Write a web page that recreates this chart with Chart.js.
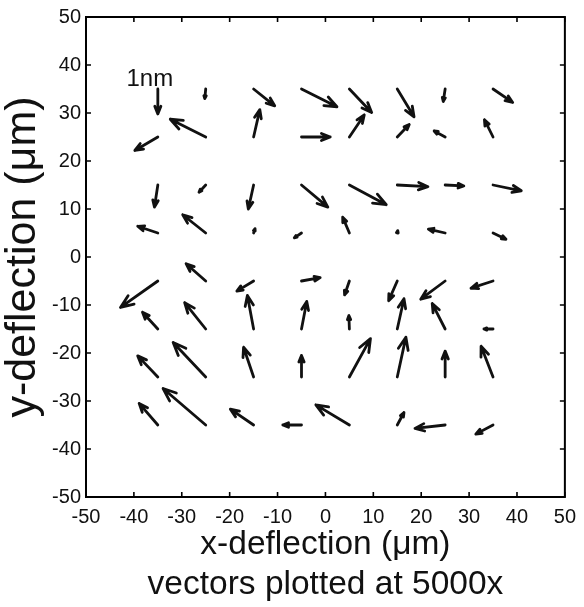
<!DOCTYPE html>
<html><head><meta charset="utf-8">
<script src="https://cdn.jsdelivr.net/npm/chart.js@4/dist/chart.umd.min.js"></script>
<style>html,body{margin:0;padding:0;background:#fff}#wrap{width:584px;height:607px}</style>
</head><body><div id="wrap"><canvas id="c" width="584" height="607"></canvas></div>
<script>
// grid of measurement positions (µm)
const gridX = [-35, -25, -15, -5, 5, 15, 25, 35];
const gridY = [35, 25, 15, 5, -5, -15, -25, -35];
// vector components (plot units, 5000x), one row per gridY value
const uRows = [
  [0.0, -0.2, 4.4, 7.4, 4.65, 3.5, -0.4, 4.1],
  [-4.8, -7.4, 1.3, 6.0, 3.1, 2.5, -2.3, -1.8],
  [-0.7, -1.4, -1.1, 5.5, 7.7, 6.4, 3.9, 5.9],
  [-4.2, -4.8, 0.3, -1.5, -1.4, 0.1, -3.5, 2.7],
  [-7.8, -4.1, -3.5, 3.9, -1.0, -1.8, -5.1, -4.6],
  [-3.2, -4.4, -1.3, 1.1, -0.1, 1.4, -2.7, -1.9],
  [-4.2, -6.8, -2.1, 0.0, 4.4, 1.8, 0.0, -2.5],
  [-3.9, -8.9, -4.85, -3.9, -7.0, 1.4, -6.3, -3.6]
];
const vRows = [
  [-5.2, -2.0, -3.5, -3.7, -4.9, -5.8, -2.6, -2.8],
  [-2.8, 3.7, 5.7, 0.0, 4.6, 2.6, 1.25, 3.6],
  [-4.6, -1.5, -5.0, -4.6, -4.1, -0.35, -0.2, -1.2],
  [1.4, 3.8, 0.9, -1.0, 3.3, 0.5, 0.8, -1.3],
  [-5.5, 3.6, -2.1, 0.7, -2.9, -4.1, -3.8, -1.5],
  [3.5, 5.5, 7.0, 5.75, 2.8, 6.3, 5.3, 0.0],
  [4.4, 7.2, 6.2, 4.5, 8.0, 8.3, 5.4, 6.4],
  [4.5, 7.6, 3.3, 0.0, 4.2, 2.6, -0.7, -1.9]
];
const tickValues = [-50, -40, -30, -20, -10, 0, 10, 20, 30, 40, 50];
const scaleArrowLabel = '1nm';
const xTitleLines = ['x-deflection (\u03bcm)', 'vectors plotted at 5000x'];
const yTitle = 'y-deflection (\u03bcm)';

const points = [];
gridY.forEach((y, r) => gridX.forEach((x, c) => {
  points.push({x: x, y: y, u: uRows[r][c], v: vRows[r][c]});
}));

const FONT = '"Liberation Sans", Arial, Helvetica, sans-serif';

const quiverPlugin = {
  id: 'quiver',
  afterDatasetsDraw(chart) {
    const ctx = chart.ctx, xs = chart.scales.x, ys = chart.scales.y;
    const a = chart.chartArea;
    ctx.save();
    // box
    ctx.strokeStyle = '#000'; ctx.lineWidth = 2;
    ctx.strokeRect(a.left, a.top, a.right - a.left, a.bottom - a.top);
    // inward ticks
    ctx.lineWidth = 1.6;
    ctx.beginPath();
    tickValues.forEach(t => {
      const px = xs.getPixelForValue(t), py = ys.getPixelForValue(t);
      ctx.moveTo(px, a.bottom); ctx.lineTo(px, a.bottom - 5);
      ctx.moveTo(px, a.top); ctx.lineTo(px, a.top + 5);
      ctx.moveTo(a.left, py); ctx.lineTo(a.left + 5, py);
      ctx.moveTo(a.right, py); ctx.lineTo(a.right - 5, py);
    });
    ctx.stroke();
    // arrows
    ctx.strokeStyle = '#111'; ctx.lineCap = 'round'; ctx.lineJoin = 'round';
    ctx.lineWidth = 2.8;
    points.forEach(p => {
      const x0 = xs.getPixelForValue(p.x), y0 = ys.getPixelForValue(p.y);
      const x1 = xs.getPixelForValue(p.x + p.u), y1 = ys.getPixelForValue(p.y + p.v);
      const dx = x1 - x0, dy = y1 - y0;
      const len = Math.hypot(dx, dy);
      ctx.beginPath();
      ctx.moveTo(x0, y0); ctx.lineTo(x1, y1);
      if (len > 0.5) {
        const h = Math.min(14, Math.max(2.5, 0.33 * len));
        const ang = Math.atan2(dy, dx), sp = 0.38;
        ctx.moveTo(x1 - h * Math.cos(ang - sp), y1 - h * Math.sin(ang - sp));
        ctx.lineTo(x1, y1);
        ctx.lineTo(x1 - h * Math.cos(ang + sp), y1 - h * Math.sin(ang + sp));
      }
      ctx.stroke();
    });
    // scale arrow label
    const sp0 = points[0];
    ctx.fillStyle = '#111';
    ctx.font = '24px ' + FONT;
    ctx.textAlign = 'center'; ctx.textBaseline = 'alphabetic';
    ctx.fillText(scaleArrowLabel, xs.getPixelForValue(sp0.x) - 8, ys.getPixelForValue(sp0.y) - 3);
    ctx.restore();
  }
};

new Chart(document.getElementById('c'), {
  type: 'scatter',
  data: {
    datasets: [{
      data: points.map(p => ({x: p.x, y: p.y})),
      pointRadius: 0, pointHoverRadius: 0
    }]
  },
  options: {
    responsive: false, animation: false, devicePixelRatio: 1,
    events: [],
    layout: {padding: {left: 0, right: 10, top: 16, bottom: 2}},
    plugins: {legend: {display: false}, tooltip: {enabled: false}},
    scales: {
      x: {
        type: 'linear', min: -50, max: 50,
        afterFit(s) { s.height = 108; },
        grid: {display: false, drawTicks: false}, border: {display: false},
        ticks: {stepSize: 10, padding: 8, color: '#111', font: {family: FONT, size: 20}},
        title: {display: true, text: xTitleLines, color: '#111',
          font: {family: FONT, size: 33.5, lineHeight: 1.2}, padding: {top: 0, bottom: 0}}
      },
      y: {
        type: 'linear', min: -50, max: 50,
        afterFit(s) { s.width = 86; },
        grid: {display: false, drawTicks: false}, border: {display: false},
        ticks: {stepSize: 10, padding: 5, color: '#111', font: {family: FONT, size: 20}},
        title: {display: true, text: yTitle, color: '#111',
          font: {family: FONT, size: 43, lineHeight: 1.07}, padding: {top: 0, bottom: 0}}
      }
    }
  },
  plugins: [quiverPlugin]
});
</script></body></html>
